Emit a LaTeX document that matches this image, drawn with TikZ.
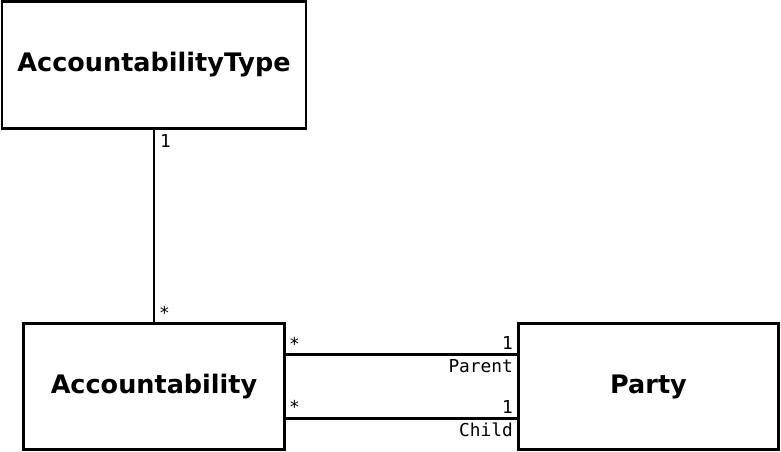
\documentclass[tikz,border=0pt]{standalone}
\usepackage{fontspec}
\setmainfont{DejaVu Sans}
\newfontfamily\monofont{DejaVu Sans Mono}
\usetikzlibrary{calc}
\tikzset{
  cls/.style={draw=black, line width=2.6pt, fill=white, inner sep=0pt,
    font=\fontsize{25.5}{30}\selectfont\bfseries},
  conn/.style={draw=black, line width=2.6pt},
  lbl/.style={inner sep=0pt, font=\monofont\fontsize{17.8}{20}\selectfont}
}
\begin{document}
\begin{tikzpicture}[x=1pt,y=-1pt]
\useasboundingbox (0,0) rectangle (781,452);
\node[cls, minimum width=304pt, minimum height=127pt] (at) at (154,65) {AccountabilityType};
\node[cls, minimum width=261pt, minimum height=126pt] (acc) at (154,386.5) {Accountability};
\node[cls, minimum width=260pt, minimum height=126pt] (party) at (648.5,386.5) {Party};
\coordinate (r1) at (400,354.5);
\coordinate (r2) at (400,418.5);
\draw[conn] (at.south) -- (acc.north);
\draw[conn] (acc.east |- r1) -- (party.west |- r1);
\draw[conn] (acc.east |- r2) -- (party.west |- r2);
\node[lbl, anchor=base west] (l1) at (160,147) {1};
\node[lbl, anchor=base west] (l2) at (159,319) {*};
\node[lbl, anchor=base west] (l3) at (289,350) {*};
\node[lbl, anchor=base east] (l4) at (513,349) {1};
\node[lbl, anchor=base east] (l5) at (513,372) {Parent};
\node[lbl, anchor=base west] (l6) at (289,413) {*};
\node[lbl, anchor=base east] (l7) at (513,413) {1};
\node[lbl, anchor=base east] (l8) at (513,436) {Child};
\end{tikzpicture}
\end{document}
